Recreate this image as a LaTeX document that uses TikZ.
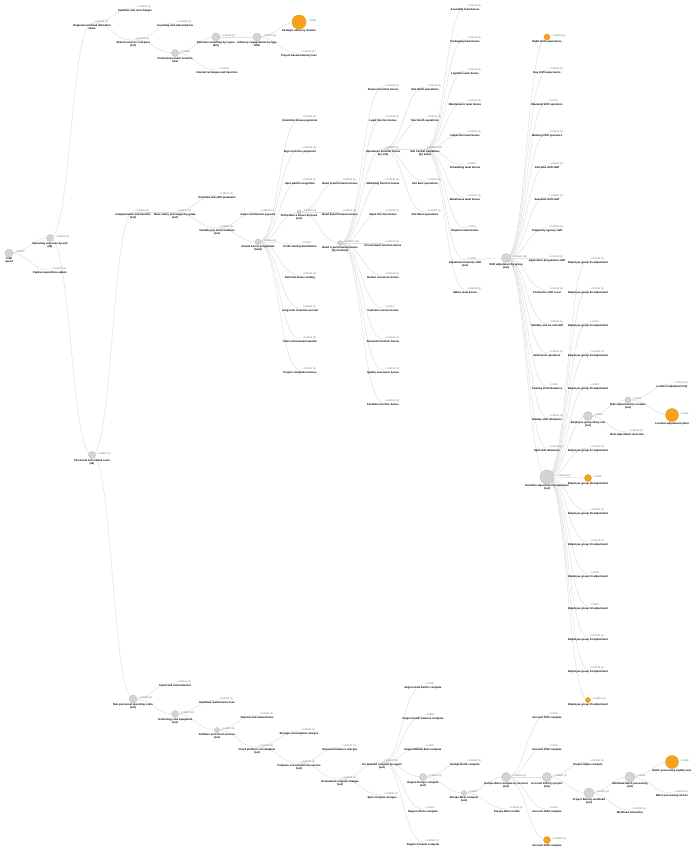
\documentclass[tikz,border=0pt]{standalone}
\usepackage{fontspec}
\setmainfont{Liberation Sans}
\usetikzlibrary{calc}
\pgfdeclarelayer{bg}
\pgfsetlayers{bg,main}
\definecolor{edgec}{HTML}{E0E0E0}
\definecolor{grayfill}{HTML}{D3D3D8}
\definecolor{grayline}{HTML}{B8B8BD}
\definecolor{orangefill}{HTML}{F6A11B}
\definecolor{orangeline}{HTML}{E3900F}
\definecolor{valc}{HTML}{2F8F2F}
\tikzset{
 gdot/.style={circle,inner sep=0pt,fill=grayfill,draw=grayline,line width=0.3bp},
 odot/.style={circle,inner sep=0pt,fill=orangefill,draw=orangeline,line width=0.3bp},
 ldot/.style={circle,inner sep=0pt},
 gl/.style={anchor=base west,inner sep=0pt,text=valc,font=\fontsize{2.4}{2.7}\selectfont},
 bl/.style={anchor=north,inner sep=0pt,align=center,font=\bfseries\fontsize{2.7}{3.0}\selectfont},
 lnkline/.style={draw=edgec,line width=0.5bp}
}
\newcommand\mynode[7]{%
  \node[#5,minimum size=#4bp] (#1) at (#2,#3) {};
  \node[gl] at ([xshift=0.8bp,yshift=0.3bp]#1.east) {#7};
  \node[bl] at ([yshift=-0.5bp]#1.south) {#6};
}
\newcommand\mylink[2]{%
  \path[lnkline] let \p1=(#1.center), \p2=(#2.center) in
   (\p1) .. controls ({0.5*\x1+0.5*\x2},\y1) and ({0.5*\x1+0.5*\x2},\y2) .. (\p2);
}
\begin{document}
\begin{tikzpicture}[x=1bp,y=-1bp]
\useasboundingbox (0,0) rectangle (691,848);
% ---------- upper branch
\mynode{R}{9}{253}{8}{gdot}{Total\\spend}{↓ 0.08471}
\mynode{A}{50}{238}{7}{gdot}{Operating expenses by unit\\(all)}{↓ 0.04120 (2)}
\mynode{B}{50}{270}{1}{ldot}{Capital expenditure adjust.}{↓ 0.00310 (1)}
\mynode{A1}{92}{23}{1}{ldot}{Regional overhead allocation\\share}{↓ 0.02150 (2)}
\mynode{A1a}{135}{8}{1}{ldot}{Facilities and rent charges}{↓ 0.00420 (1)}
\mynode{A1b}{133}{40}{1}{ldot}{Shared services cost pool\\(net)}{↓ 0.01730 (2)}
\mynode{A1ba}{175}{23}{1}{ldot}{Licensing and subscriptions}{↓ 0.00280 (1)}
\mynode{A1bb}{175}{53}{7}{gdot}{Contracted vendor services\\total}{↓ 0.01450}
\mynode{A1bba}{216}{37}{8}{gdot}{External consulting by region\\(EU)}{↓ 0.01190 (1)}
\mynode{A1bbb}{217}{70}{1}{ldot}{Internal recharges and transfers}{↓ 0.00260}
\mynode{A1bbaa}{257}{37}{8}{gdot}{Advisory engagements by type\\2023}{↓ 0.01170 (1)}
\mynode{T1}{299}{22}{14}{odot}{Strategic advisory retainer}{↓ 0.0098}
\mynode{T2}{299}{53}{1}{ldot}{Project-based advisory fees}{↓ 0.00190 (1)}
% ---------- middle branch
\mynode{A2}{92}{455}{7}{gdot}{Personnel and related costs\\(all)}{↓ 0.01970 (2)}
\mynode{C1}{133}{212}{1}{ldot}{Compensation and benefits\\(net)}{↓ 0.00880 (2)}
\mynode{D}{175}{212}{1}{ldot}{Base salary and wages by grade\\(net)}{↓ 0.00810 (2)}
\mynode{D1}{217}{195}{1}{ldot}{Overtime and shift premiums}{↓ 0.00120 (1)}
\mynode{D2}{217}{228}{1}{ldot}{Variable pay and incentives\\(net)}{↓ 0.00690 (2)}
\mynode{D2a}{258}{212}{1}{ldot}{Sales commission payouts}{↓ 0.00110 (1)}
\mynode{E}{258}{242}{6}{gdot}{Annual bonus programme\\(total)}{↓ 0.00580 (9)}
\mynode{E1}{300}{118}{1}{ldot}{Retention bonus payments}{↓ 0.00040 (1)}
\mynode{E2}{300}{149}{1}{ldot}{Sign-on bonus payments}{↓ 0.00030 (1)}
\mynode{E3}{300}{181}{1}{ldot}{Spot award recognition}{↓ 0.00040 (1)}
\mynode{E4}{299}{212}{4}{gdot}{Performance bonus by band\\(net)}{↓ 0.00310 (3)}
\mynode{E5}{300}{244}{1}{ldot}{Profit sharing distribution}{↓ 0.0003}
\mynode{E6}{300}{275}{1}{ldot}{Deferred bonus vesting}{↓ 0.00040 (1)}
\mynode{E7}{300}{308}{1}{ldot}{Long-term incentive accrual}{↓ 0.00030 (1)}
\mynode{E8}{300}{339}{1}{ldot}{Team achievement awards}{↓ 0.00020 (1)}
\mynode{E9}{300}{370}{1}{ldot}{Project completion bonus}{↓ 0.00020 (1)}
\mynode{E4a}{340}{181}{1}{ldot}{Band A performance bonus}{↓ 0.00050 (1)}
\mynode{E4b}{340}{212}{1}{ldot}{Band B performance bonus}{↓ 0.00060 (1)}
\mynode{F}{340}{243}{5}{gdot}{Band C performance bonus\\(by function)}{↓ 0.00200 (11)}
\mynode{F1}{383}{87}{1}{ldot}{Finance function bonus}{↓ 0.00010 (1)}
\mynode{F2}{383}{118}{1}{ldot}{Legal function bonus}{↓ 0.00010 (1)}
\mynode{F3}{383}{149}{1}{ldot}{Operations function bonus\\(by site)}{↓ 0.00090 (5)}
\mynode{F4}{383}{181}{1}{ldot}{Marketing function bonus}{↓ 0.00010 (1)}
\mynode{F5}{383}{212}{1}{ldot}{Sales function bonus}{↓ 0.00010 (1)}
\mynode{F6}{383}{243}{1}{ldot}{Procurement function bonus}{↓ 0.00010 (1)}
\mynode{F7}{383}{275}{1}{ldot}{Human resources bonus}{↓ 0.00010 (1)}
\mynode{F8}{383}{308}{1}{ldot}{Customer service bonus}{↓ 0.0001}
\mynode{F9}{383}{339}{1}{ldot}{Research function bonus}{↓ 0.00010 (1)}
\mynode{F10}{383}{370}{1}{ldot}{Quality assurance bonus}{↓ 0.00010 (1)}
\mynode{F11}{383}{402}{1}{ldot}{Facilities function bonus}{↓ 0.00010 (1)}
\mynode{S1}{425}{87}{1}{ldot}{Site North operations}{↓ 0.00010 (1)}
\mynode{S2}{425}{118}{1}{ldot}{Site South operations}{↓ 0.00010 (1)}
\mynode{K}{425}{149}{1}{ldot}{Site Central operations\\(by team)}{↓ 0.00060 (10)}
\mynode{S4}{425}{181}{1}{ldot}{Site East operations}{↓ 0.00010 (1)}
\mynode{S5}{425}{212}{1}{ldot}{Site West operations}{↓ 0.00010 (1)}
\mynode{K1}{465}{7}{1}{ldot}{Assembly team bonus}{↓ 0.00010 (1)}
\mynode{K2}{465}{39}{1}{ldot}{Packaging team bonus}{↓ 0.00010 (1)}
\mynode{K3}{465}{71}{1}{ldot}{Logistics team bonus}{↓ 0.00010 (1)}
\mynode{K4}{465}{102}{1}{ldot}{Maintenance team bonus}{↓ 0.00010 (1)}
\mynode{K5}{465}{133}{1}{ldot}{Inspection team bonus}{↓ 0.00010 (1)}
\mynode{K6}{465}{165}{1}{ldot}{Scheduling team bonus}{↓ 0.0001}
\mynode{K7}{465}{197}{1}{ldot}{Warehouse team bonus}{↓ 0.00010 (1)}
\mynode{K8}{465}{228}{1}{ldot}{Dispatch team bonus}{↓ 0.0001}
\mynode{L}{465}{260}{1}{ldot}{Adjustment team by shift\\(net)}{↓ 0.0004}
\mynode{K10}{465}{290}{1}{ldot}{Safety team bonus}{↓ 0.00010 (1)}
\mynode{G}{506}{258}{9}{gdot}{Shift adjustment by group\\(net)}{↓ 0.00040 (15)}
\mynode{G1}{547}{37}{6}{odot}{Night shift supervisors}{↓ 0.00010 (1)}
\mynode{G2}{547}{70}{1}{ldot}{Day shift supervisors}{↓ 0.00010 (1)}
\mynode{G3}{547}{102}{1}{ldot}{Weekend shift operators}{↓ 0.0001}
\mynode{G4}{547}{133}{1}{ldot}{Rotating shift operators}{↓ 0.00010 (1)}
\mynode{G5}{547}{165}{1}{ldot}{Part-time shift staff}{↓ 0.00010 (1)}
\mynode{G6}{547}{197}{1}{ldot}{Seasonal shift staff}{↓ 0.00010 (1)}
\mynode{G7}{547}{228}{1}{ldot}{Temporary agency staff}{↓ 0.00010 (1)}
\mynode{G8}{547}{258}{1}{ldot}{Apprentice programme staff}{↓ 0.00010 (1)}
\mynode{G9}{547}{290}{1}{ldot}{Contractor shift cover}{↓ 0.00010 (1)}
\mynode{G10}{547}{323}{1}{ldot}{Standby and on-call staff}{↓ 0.00010 (1)}
\mynode{G11}{547}{353}{1}{ldot}{Relief pool operators}{↓ 0.00010 (1)}
\mynode{G12}{547}{386}{1}{ldot}{Training shift allowance}{↓ 0.0001}
\mynode{G13}{547}{417}{1}{ldot}{Holiday shift allowance}{↓ 0.00010 (1)}
\mynode{G14}{547}{448}{1}{ldot}{Split shift allowance}{↓ 0.00010 (1)}
\mynode{H}{547}{477}{14}{gdot}{Overtime adjustment by employee\\(net)}{↓ 0.00020 (15)}
\mynode{H1}{588}{260}{1}{ldot}{Employee group 01 adjustment}{↓ 0.00010 (1)}
\mynode{H2}{588}{290}{1}{ldot}{Employee group 02 adjustment}{↓ 0.00010 (1)}
\mynode{H3}{588}{323}{1}{ldot}{Employee group 03 adjustment}{↓ 0.0001}
\mynode{H4}{588}{353}{1}{ldot}{Employee group 04 adjustment}{↓ 0.00010 (1)}
\mynode{H5}{588}{386}{1}{ldot}{Employee group 05 adjustment}{↓ 0.0001}
\mynode{M}{588}{416}{9}{gdot}{Employee group 06 by role\\(net)}{↓ 0.0001}
\mynode{H7}{588}{448}{1}{ldot}{Employee group 07 adjustment}{↓ 0.00010 (1)}
\mynode{H8}{588}{478}{7}{odot}{Employee group 08 adjustment}{↓ 0.0001}
\mynode{H9}{588}{511}{1}{ldot}{Employee group 09 adjustment}{↓ 0.00010 (1)}
\mynode{H10}{588}{542}{1}{ldot}{Employee group 10 adjustment}{↓ 0.00010 (1)}
\mynode{H11}{588}{574}{1}{ldot}{Employee group 11 adjustment}{↓ 0.0001}
\mynode{H12}{588}{606}{1}{ldot}{Employee group 12 adjustment}{↓ 0.0001}
\mynode{H13}{588}{637}{1}{ldot}{Employee group 13 adjustment}{↓ 0.00010 (1)}
\mynode{H14}{588}{669}{1}{ldot}{Employee group 14 adjustment}{↓ 0.00010 (1)}
\mynode{H15}{588}{700}{5}{odot}{Employee group 15 adjustment}{↓ 0.00010 (1)}
\mynode{N}{628}{400}{6}{gdot}{Role adjustment by location\\(net)}{↓ 0.0001}
\mynode{M2}{627}{432}{1}{ldot}{Role adjustment reversals}{↓ 0.00010 (1)}
\mynode{N1}{672}{384}{1}{ldot}{Location adjustment HQ}{↓ 0.00010 (1)}
\mynode{N2}{672}{415}{13}{odot}{Location adjustment plant}{↓ 0.0001}
% ---------- lower branch
\mynode{C2}{133}{699}{8}{gdot}{Non-personnel operating costs\\(net)}{↓ 0.01090 (2)}
\mynode{C2a}{175}{683}{1}{ldot}{Travel and entertainment}{↓ 0.00120 (1)}
\mynode{P1}{175}{714}{7}{gdot}{Technology and equipment\\(net)}{↓ 0.00970 (2)}
\mynode{P1a}{217}{700}{1}{ldot}{Hardware maintenance fees}{↓ 0.00100 (1)}
\mynode{P2}{217}{730}{5}{gdot}{Software and cloud services\\(net)}{↓ 0.00870 (2)}
\mynode{P2a}{257}{715}{1}{ldot}{Telecom and network fees}{↓ 0.00090 (1)}
\mynode{P3}{257}{747}{1}{ldot}{Cloud platform consumption\\(net)}{↓ 0.00780 (2)}
\mynode{P3a}{299}{731}{1}{ldot}{Storage consumption charges}{↓ 0.00080 (1)}
\mynode{P4}{299}{763}{1}{ldot}{Compute consumption by service\\(net)}{↓ 0.00700 (2)}
\mynode{P4a}{340}{747}{1}{ldot}{Reserved instance charges}{↓ 0.00070 (1)}
\mynode{P5}{340}{779}{1}{ldot}{On-demand compute charges\\(net)}{↓ 0.00630 (2)}
\mynode{P6}{382}{762}{1}{ldot}{On-demand compute by region\\(net)}{↓ 0.00570 (6)}
\mynode{P5b}{382}{795}{1}{ldot}{Spot compute charges}{↓ 0.00060 (1)}
\mynode{Q1}{423}{685}{1}{ldot}{Region Asia Pacific compute}{↓ 0.0005}
\mynode{Q2}{423}{716}{1}{ldot}{Region South America compute}{↓ 0.0005}
\mynode{Q3}{423}{747}{1}{ldot}{Region Middle East compute}{↓ 0.0005}
\mynode{P7}{423}{777}{7}{gdot}{Region Europe compute\\(net)}{↓ 0.00320 (2)}
\mynode{Q5}{423}{809}{1}{ldot}{Region Africa compute}{↓ 0.0005}
\mynode{Q6}{423}{842}{1}{ldot}{Region Oceania compute}{↓ 0.00050 (1)}
\mynode{P7a}{465}{762}{1}{ldot}{Europe North compute}{↓ 0.00040 (1)}
\mynode{P8}{464}{793}{5}{gdot}{Europe West compute\\(net)}{↓ 0.0028}
\mynode{P9}{506}{777}{9}{gdot}{Europe West compute by account\\(net)}{↓ 0.00250 (5)}
\mynode{P8b}{507}{809}{1}{ldot}{Europe West credits}{↓ 0.00030 (1)}
\mynode{R1}{547}{715}{1}{ldot}{Account 1001 compute}{↓ 0.0003}
\mynode{R2}{547}{747}{1}{ldot}{Account 1002 compute}{↓ 0.0003}
\mynode{P10}{547}{777}{9}{gdot}{Account 1003 by project\\(net)}{↓ 0.00160 (2)}
\mynode{R4}{547}{809}{1}{ldot}{Account 1004 compute}{↓ 0.0003}
\mynode{R5}{547}{840}{7}{odot}{Account 1005 compute}{↓ 0.00030 (1)}
\mynode{P10a}{588}{762}{1}{ldot}{Project Alpha compute}{↓ 0.00030 (1)}
\mynode{P11}{589}{793}{10}{gdot}{Project Beta by workload\\(net)}{↓ 0.00130 (2)}
\mynode{P12}{630}{777}{10}{gdot}{Workload batch processing\\(net)}{↓ 0.0011}
\mynode{P11b}{630}{810}{1}{ldot}{Workload interactive}{↓ 0.00020 (1)}
\mynode{T3}{672}{762}{13}{odot}{Batch processing nightly runs}{↓ 0.0009}
\mynode{T3b}{672}{793}{1}{ldot}{Batch processing ad hoc}{↓ 0.00020 (1)}
% ---------- connectors
\begin{pgfonlayer}{bg}
\fill[white] (0,0) rectangle (691,848);
\mylink{R}{A}\mylink{R}{B}
\mylink{A}{A1}\mylink{A}{A2}
\mylink{A1}{A1a}\mylink{A1}{A1b}
\mylink{A1b}{A1ba}\mylink{A1b}{A1bb}
\mylink{A1bb}{A1bba}\mylink{A1bb}{A1bbb}
\mylink{A1bba}{A1bbaa}
\mylink{A1bbaa}{T1}\mylink{A1bbaa}{T2}
\mylink{A2}{C1}\mylink{A2}{C2}
\mylink{C1}{D}
\mylink{D}{D1}\mylink{D}{D2}
\mylink{D2}{D2a}\mylink{D2}{E}
\foreach \cc in {E1,E2,E3,E4,E5,E6,E7,E8,E9}{\mylink{E}{\cc}}
\mylink{E4}{E4a}\mylink{E4}{E4b}\mylink{E4}{F}
\foreach \cc in {F1,F2,F3,F4,F5,F6,F7,F8,F9,F10,F11}{\mylink{F}{\cc}}
\foreach \cc in {S1,S2,K,S4,S5}{\mylink{F3}{\cc}}
\foreach \cc in {K1,K2,K3,K4,K5,K6,K7,K8,L,K10}{\mylink{K}{\cc}}
\mylink{L}{G}
\foreach \cc in {G1,G2,G3,G4,G5,G6,G7,G8,G9,G10,G11,G12,G13,G14,H}{\mylink{G}{\cc}}
\foreach \cc in {H1,H2,H3,H4,H5,M,H7,H8,H9,H10,H11,H12,H13,H14,H15}{\mylink{H}{\cc}}
\mylink{M}{N}\mylink{M}{M2}
\mylink{N}{N1}\mylink{N}{N2}
\mylink{C2}{C2a}\mylink{C2}{P1}
\mylink{P1}{P1a}\mylink{P1}{P2}
\mylink{P2}{P2a}\mylink{P2}{P3}
\mylink{P3}{P3a}\mylink{P3}{P4}
\mylink{P4}{P4a}\mylink{P4}{P5}
\mylink{P5}{P6}\mylink{P5}{P5b}
\foreach \cc in {Q1,Q2,Q3,P7,Q5,Q6}{\mylink{P6}{\cc}}
\mylink{P7}{P7a}\mylink{P7}{P8}
\mylink{P8}{P9}\mylink{P8}{P8b}
\foreach \cc in {R1,R2,P10,R4,R5}{\mylink{P9}{\cc}}
\mylink{P10}{P10a}\mylink{P10}{P11}
\mylink{P11}{P12}\mylink{P11}{P11b}
\mylink{P12}{T3}\mylink{P12}{T3b}
\end{pgfonlayer}
\end{tikzpicture}
\end{document}
